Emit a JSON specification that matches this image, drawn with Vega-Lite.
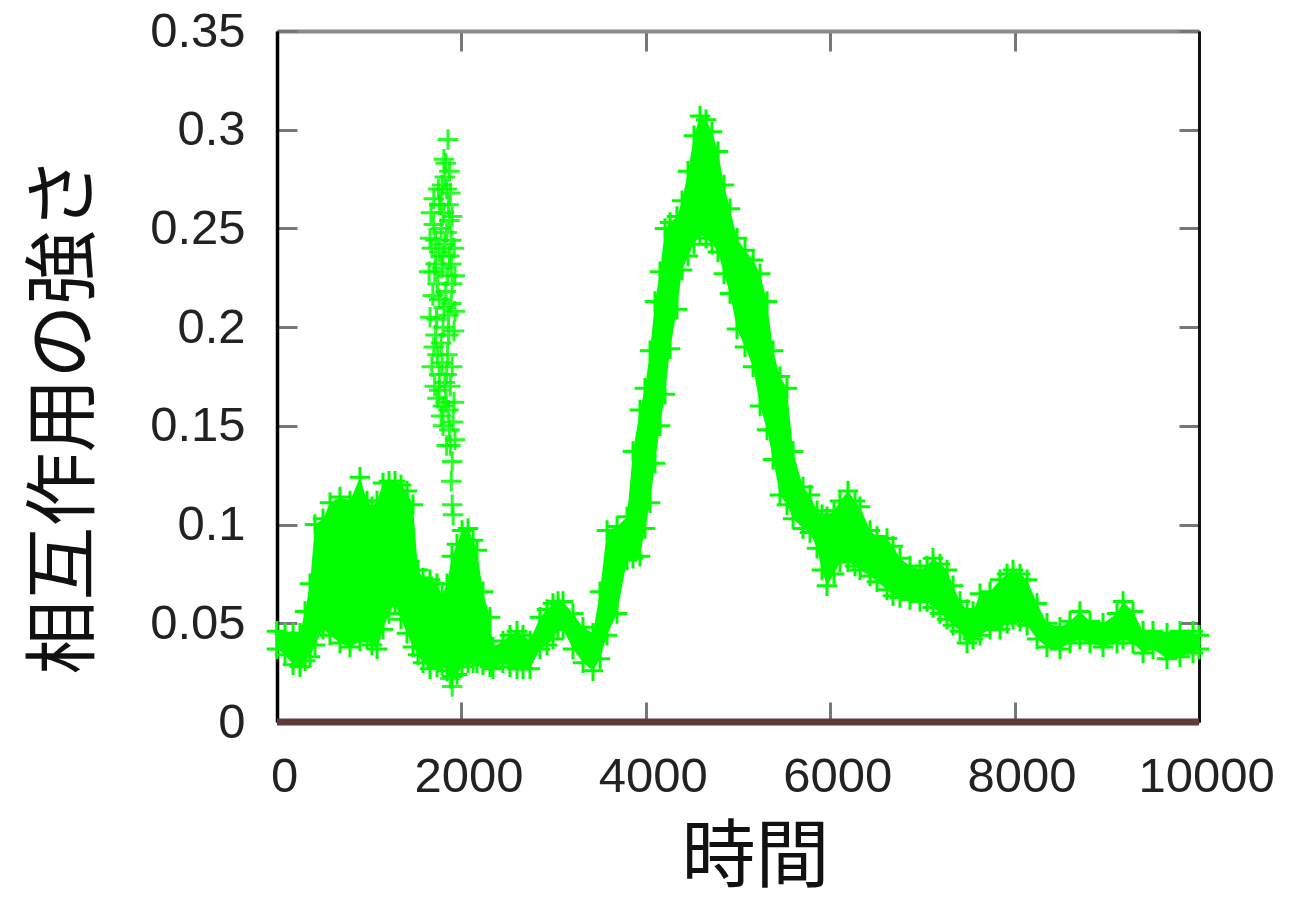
{
  "$schema": "https://vega.github.io/schema/vega-lite/v6.json",
  "width": 922,
  "height": 691,
  "autosize": {"type": "none"},
  "padding": {"left": 277, "top": 31, "right": 93, "bottom": 176},
  "background": "white",
  "config": {
    "view": {"stroke": null},
    "axis": {
      "grid": false,
      "tickColor": "#777777",
      "tickWidth": 3,
      "tickSize": -20,
      "labelFont": "Liberation Sans",
      "labelFontSize": 49,
      "labelColor": "#222222",
      "titleFont": "Noto Sans CJK JP",
      "titleFontSize": 74,
      "titleFontWeight": "normal",
      "titleColor": "#111111"
    }
  },
  "datasets": {
    "base": [
      {"t": 0, "v": 0},
      {"t": 10000, "v": 0}
    ],
    "band": [
      {"t": 0, "lo": 0.037, "hi": 0.046},
      {"t": 87, "lo": 0.034, "hi": 0.045},
      {"t": 174, "lo": 0.029, "hi": 0.045},
      {"t": 249, "lo": 0.028, "hi": 0.045},
      {"t": 304, "lo": 0.031, "hi": 0.056},
      {"t": 358, "lo": 0.033, "hi": 0.070},
      {"t": 412, "lo": 0.039, "hi": 0.100},
      {"t": 499, "lo": 0.047, "hi": 0.103},
      {"t": 575, "lo": 0.044, "hi": 0.111},
      {"t": 683, "lo": 0.040, "hi": 0.114},
      {"t": 792, "lo": 0.038, "hi": 0.112},
      {"t": 900, "lo": 0.041, "hi": 0.124},
      {"t": 976, "lo": 0.042, "hi": 0.112},
      {"t": 1030, "lo": 0.039, "hi": 0.109},
      {"t": 1085, "lo": 0.037, "hi": 0.112},
      {"t": 1150, "lo": 0.047, "hi": 0.121},
      {"t": 1215, "lo": 0.055, "hi": 0.122},
      {"t": 1280, "lo": 0.060, "hi": 0.122},
      {"t": 1345, "lo": 0.052, "hi": 0.120},
      {"t": 1410, "lo": 0.045, "hi": 0.117},
      {"t": 1475, "lo": 0.038, "hi": 0.110},
      {"t": 1529, "lo": 0.034, "hi": 0.077},
      {"t": 1584, "lo": 0.030, "hi": 0.073},
      {"t": 1659, "lo": 0.027, "hi": 0.072},
      {"t": 1735, "lo": 0.028, "hi": 0.070},
      {"t": 1790, "lo": 0.029, "hi": 0.064},
      {"t": 1844, "lo": 0.026, "hi": 0.070},
      {"t": 1898, "lo": 0.023, "hi": 0.084},
      {"t": 1952, "lo": 0.024, "hi": 0.090},
      {"t": 2007, "lo": 0.028, "hi": 0.097},
      {"t": 2072, "lo": 0.030, "hi": 0.098},
      {"t": 2126, "lo": 0.030, "hi": 0.092},
      {"t": 2169, "lo": 0.030, "hi": 0.087},
      {"t": 2234, "lo": 0.029, "hi": 0.066},
      {"t": 2310, "lo": 0.028, "hi": 0.053},
      {"t": 2343, "lo": 0.027, "hi": 0.038},
      {"t": 2451, "lo": 0.030, "hi": 0.041},
      {"t": 2527, "lo": 0.028, "hi": 0.044},
      {"t": 2603, "lo": 0.027, "hi": 0.046},
      {"t": 2668, "lo": 0.027, "hi": 0.044},
      {"t": 2744, "lo": 0.027, "hi": 0.041},
      {"t": 2852, "lo": 0.037, "hi": 0.053},
      {"t": 2928, "lo": 0.039, "hi": 0.057},
      {"t": 2993, "lo": 0.042, "hi": 0.060},
      {"t": 3048, "lo": 0.047, "hi": 0.061},
      {"t": 3102, "lo": 0.047, "hi": 0.061},
      {"t": 3210, "lo": 0.037, "hi": 0.055},
      {"t": 3319, "lo": 0.030, "hi": 0.048},
      {"t": 3427, "lo": 0.026, "hi": 0.045},
      {"t": 3503, "lo": 0.032, "hi": 0.066},
      {"t": 3579, "lo": 0.044, "hi": 0.097},
      {"t": 3688, "lo": 0.055, "hi": 0.099},
      {"t": 3796, "lo": 0.082, "hi": 0.104},
      {"t": 3861, "lo": 0.083, "hi": 0.137},
      {"t": 3937, "lo": 0.084, "hi": 0.158},
      {"t": 3991, "lo": 0.098, "hi": 0.169},
      {"t": 4046, "lo": 0.111, "hi": 0.188},
      {"t": 4100, "lo": 0.131, "hi": 0.213},
      {"t": 4154, "lo": 0.150, "hi": 0.228},
      {"t": 4208, "lo": 0.166, "hi": 0.250},
      {"t": 4263, "lo": 0.189, "hi": 0.253},
      {"t": 4338, "lo": 0.209, "hi": 0.256},
      {"t": 4393, "lo": 0.229, "hi": 0.264},
      {"t": 4458, "lo": 0.236, "hi": 0.279},
      {"t": 4523, "lo": 0.242, "hi": 0.297},
      {"t": 4588, "lo": 0.247, "hi": 0.307},
      {"t": 4653, "lo": 0.245, "hi": 0.305},
      {"t": 4718, "lo": 0.242, "hi": 0.299},
      {"t": 4783, "lo": 0.238, "hi": 0.289},
      {"t": 4848, "lo": 0.227, "hi": 0.272},
      {"t": 4913, "lo": 0.217, "hi": 0.260},
      {"t": 4989, "lo": 0.199, "hi": 0.245},
      {"t": 5076, "lo": 0.190, "hi": 0.239},
      {"t": 5163, "lo": 0.180, "hi": 0.234},
      {"t": 5239, "lo": 0.160, "hi": 0.227},
      {"t": 5315, "lo": 0.148, "hi": 0.213},
      {"t": 5380, "lo": 0.133, "hi": 0.188},
      {"t": 5455, "lo": 0.115, "hi": 0.175},
      {"t": 5531, "lo": 0.110, "hi": 0.169},
      {"t": 5597, "lo": 0.103, "hi": 0.137},
      {"t": 5705, "lo": 0.098, "hi": 0.119},
      {"t": 5781, "lo": 0.096, "hi": 0.115},
      {"t": 5857, "lo": 0.088, "hi": 0.107},
      {"t": 5911, "lo": 0.077, "hi": 0.105},
      {"t": 5965, "lo": 0.069, "hi": 0.104},
      {"t": 6041, "lo": 0.075, "hi": 0.107},
      {"t": 6106, "lo": 0.081, "hi": 0.112},
      {"t": 6193, "lo": 0.081, "hi": 0.117},
      {"t": 6269, "lo": 0.079, "hi": 0.112},
      {"t": 6323, "lo": 0.077, "hi": 0.109},
      {"t": 6432, "lo": 0.074, "hi": 0.097},
      {"t": 6508, "lo": 0.071, "hi": 0.094},
      {"t": 6616, "lo": 0.067, "hi": 0.093},
      {"t": 6681, "lo": 0.064, "hi": 0.089},
      {"t": 6757, "lo": 0.063, "hi": 0.083},
      {"t": 6866, "lo": 0.062, "hi": 0.079},
      {"t": 6974, "lo": 0.061, "hi": 0.077},
      {"t": 7050, "lo": 0.061, "hi": 0.079},
      {"t": 7115, "lo": 0.058, "hi": 0.083},
      {"t": 7191, "lo": 0.055, "hi": 0.080},
      {"t": 7267, "lo": 0.052, "hi": 0.077},
      {"t": 7332, "lo": 0.049, "hi": 0.069},
      {"t": 7408, "lo": 0.046, "hi": 0.061},
      {"t": 7484, "lo": 0.040, "hi": 0.057},
      {"t": 7549, "lo": 0.042, "hi": 0.056},
      {"t": 7625, "lo": 0.044, "hi": 0.065},
      {"t": 7733, "lo": 0.047, "hi": 0.066},
      {"t": 7842, "lo": 0.047, "hi": 0.072},
      {"t": 7918, "lo": 0.050, "hi": 0.075},
      {"t": 7983, "lo": 0.052, "hi": 0.077},
      {"t": 8059, "lo": 0.051, "hi": 0.075},
      {"t": 8135, "lo": 0.049, "hi": 0.072},
      {"t": 8243, "lo": 0.042, "hi": 0.060},
      {"t": 8351, "lo": 0.038, "hi": 0.050},
      {"t": 8492, "lo": 0.037, "hi": 0.048},
      {"t": 8601, "lo": 0.040, "hi": 0.051},
      {"t": 8709, "lo": 0.042, "hi": 0.056},
      {"t": 8818, "lo": 0.040, "hi": 0.051},
      {"t": 8959, "lo": 0.038, "hi": 0.050},
      {"t": 9111, "lo": 0.040, "hi": 0.055},
      {"t": 9176, "lo": 0.042, "hi": 0.061},
      {"t": 9284, "lo": 0.040, "hi": 0.056},
      {"t": 9393, "lo": 0.035, "hi": 0.046},
      {"t": 9501, "lo": 0.037, "hi": 0.046},
      {"t": 9653, "lo": 0.032, "hi": 0.045},
      {"t": 9794, "lo": 0.033, "hi": 0.046},
      {"t": 9935, "lo": 0.035, "hi": 0.046},
      {"t": 10000, "lo": 0.037, "hi": 0.044}
    ],
    "spike": [
      {"t": 1855, "v": 0.295},
      {"t": 1830, "v": 0.283}, {"t": 1870, "v": 0.279}, {"t": 1810, "v": 0.285},
      {"t": 1790, "v": 0.272}, {"t": 1840, "v": 0.270}, {"t": 1880, "v": 0.268}, {"t": 1750, "v": 0.270}, {"t": 1820, "v": 0.276},
      {"t": 1760, "v": 0.262}, {"t": 1810, "v": 0.258}, {"t": 1860, "v": 0.262}, {"t": 1900, "v": 0.256}, {"t": 1700, "v": 0.265}, {"t": 1780, "v": 0.262}, {"t": 1670, "v": 0.258},
      {"t": 1700, "v": 0.252}, {"t": 1780, "v": 0.250}, {"t": 1840, "v": 0.248}, {"t": 1890, "v": 0.244}, {"t": 1870, "v": 0.254},
      {"t": 1680, "v": 0.240}, {"t": 1760, "v": 0.238}, {"t": 1820, "v": 0.242}, {"t": 1870, "v": 0.236}, {"t": 1920, "v": 0.240}, {"t": 1660, "v": 0.245}, {"t": 1720, "v": 0.244}, {"t": 1800, "v": 0.236},
      {"t": 1710, "v": 0.228}, {"t": 1790, "v": 0.230}, {"t": 1850, "v": 0.226}, {"t": 1900, "v": 0.222}, {"t": 1650, "v": 0.228}, {"t": 1720, "v": 0.232}, {"t": 1890, "v": 0.232}, {"t": 1930, "v": 0.226},
      {"t": 1690, "v": 0.216}, {"t": 1760, "v": 0.214}, {"t": 1830, "v": 0.218}, {"t": 1890, "v": 0.212}, {"t": 1740, "v": 0.222}, {"t": 1810, "v": 0.210}, {"t": 1930, "v": 0.208},
      {"t": 1730, "v": 0.204}, {"t": 1800, "v": 0.200}, {"t": 1860, "v": 0.206}, {"t": 1920, "v": 0.198}, {"t": 1660, "v": 0.205}, {"t": 1720, "v": 0.196}, {"t": 1860, "v": 0.196},
      {"t": 1700, "v": 0.190}, {"t": 1780, "v": 0.192}, {"t": 1850, "v": 0.186}, {"t": 1900, "v": 0.180}, {"t": 1680, "v": 0.180}, {"t": 1740, "v": 0.186}, {"t": 1790, "v": 0.182}, {"t": 1840, "v": 0.176},
      {"t": 1760, "v": 0.176}, {"t": 1820, "v": 0.172}, {"t": 1880, "v": 0.170}, {"t": 1710, "v": 0.170},
      {"t": 1740, "v": 0.164}, {"t": 1800, "v": 0.160}, {"t": 1860, "v": 0.158}, {"t": 1920, "v": 0.162}, {"t": 1760, "v": 0.168}, {"t": 1830, "v": 0.162},
      {"t": 1800, "v": 0.150}, {"t": 1870, "v": 0.148}, {"t": 1910, "v": 0.152}, {"t": 1780, "v": 0.155}, {"t": 1840, "v": 0.140},
      {"t": 1880, "v": 0.140}, {"t": 1930, "v": 0.143},
      {"t": 1900, "v": 0.132}, {"t": 1890, "v": 0.122}, {"t": 1900, "v": 0.110}, {"t": 1910, "v": 0.105},
      {"t": 1900, "v": 0.018}, {"t": 1880, "v": 0.022}
    ]
  },
  "resolve": {"axis": {"x": "independent", "y": "independent"}},
  "layer": [
    {
      "data": {"name": "band"},
      "mark": {"type": "area", "color": "#00ff00", "opacity": 1},
      "encoding": {
        "x": {
          "field": "t", "type": "quantitative",
          "scale": {"domain": [0, 10000], "nice": false, "zero": false},
          "axis": {
            "orient": "bottom", "values": [0, 2000, 4000, 6000, 8000, 10000], "format": "d",
            "domain": false, "labelPadding": 50, "labelOffset": 7, "labelFlush": false,
            "title": "時間", "titleX": 478, "titleY": 136, "titleBaseline": "middle", "titleAlign": "center", "titleAnchor": null
          }
        },
        "y": {
          "field": "lo", "type": "quantitative",
          "scale": {"domain": [0, 0.35], "nice": false, "zero": false},
          "axis": {
            "orient": "left", "values": [0, 0.05, 0.1, 0.15, 0.2, 0.25, 0.3, 0.35], "format": "~g",
            "domain": true, "domainColor": "#000000", "domainWidth": 3.5, "labelPadding": 52, "labelFlush": false,
            "title": "相互作用の強さ", "titleX": -212, "titleY": 384, "titleAngle": -90, "titleBaseline": "middle", "titleAlign": "center", "titleAnchor": null
          }
        },
        "y2": {"field": "hi"}
      }
    },
    {
      "data": {"name": "band"},
      "transform": [{"fold": ["lo", "hi"], "as": ["edge", "v"]}],
      "mark": {"type": "point", "shape": "M-1,0L1,0M0,-1L0,1", "size": 420, "filled": false, "stroke": "#00ff00", "strokeWidth": 3, "opacity": 1},
      "encoding": {
        "x": {"field": "t", "type": "quantitative", "scale": {"domain": [0, 10000], "nice": false, "zero": false}, "axis": null},
        "y": {"field": "v", "type": "quantitative", "scale": {"domain": [0, 0.35], "nice": false, "zero": false}, "axis": null}
      }
    },
    {
      "data": {"name": "spike"},
      "mark": {"type": "point", "shape": "M-1,0L1,0M0,-1L0,1", "size": 420, "filled": false, "stroke": "#00ff00", "strokeWidth": 3, "opacity": 0.85},
      "encoding": {
        "x": {"field": "t", "type": "quantitative", "scale": {"domain": [0, 10000], "nice": false, "zero": false}, "axis": null},
        "y": {"field": "v", "type": "quantitative", "scale": {"domain": [0, 0.35], "nice": false, "zero": false}, "axis": null}
      }
    },
    {
      "data": {"name": "band"},
      "mark": {"type": "point", "opacity": 0},
      "encoding": {
        "x": {
          "field": "t", "type": "quantitative", "scale": {"domain": [0, 10000], "nice": false, "zero": false},
          "axis": {"orient": "top", "values": [0, 2000, 4000, 6000, 8000, 10000], "labels": false, "domain": true, "domainColor": "#8a8a8a", "domainWidth": 4, "title": null}
        },
        "y": {
          "field": "hi", "type": "quantitative", "scale": {"domain": [0, 0.35], "nice": false, "zero": false},
          "axis": {"orient": "right", "values": [0, 0.05, 0.1, 0.15, 0.2, 0.25, 0.3, 0.35], "labels": false, "domain": true, "domainColor": "#111111", "domainWidth": 3, "title": null}
        }
      }
    },
    {
      "data": {"name": "base"},
      "mark": {"type": "line", "color": "#5e3b37", "strokeWidth": 7, "strokeCap": "butt"},
      "encoding": {
        "x": {"field": "t", "type": "quantitative", "scale": {"domain": [0, 10000], "nice": false, "zero": false}, "axis": null},
        "y": {"field": "v", "type": "quantitative", "scale": {"domain": [0, 0.35], "nice": false, "zero": false}, "axis": null}
      }
    }
  ]
}
